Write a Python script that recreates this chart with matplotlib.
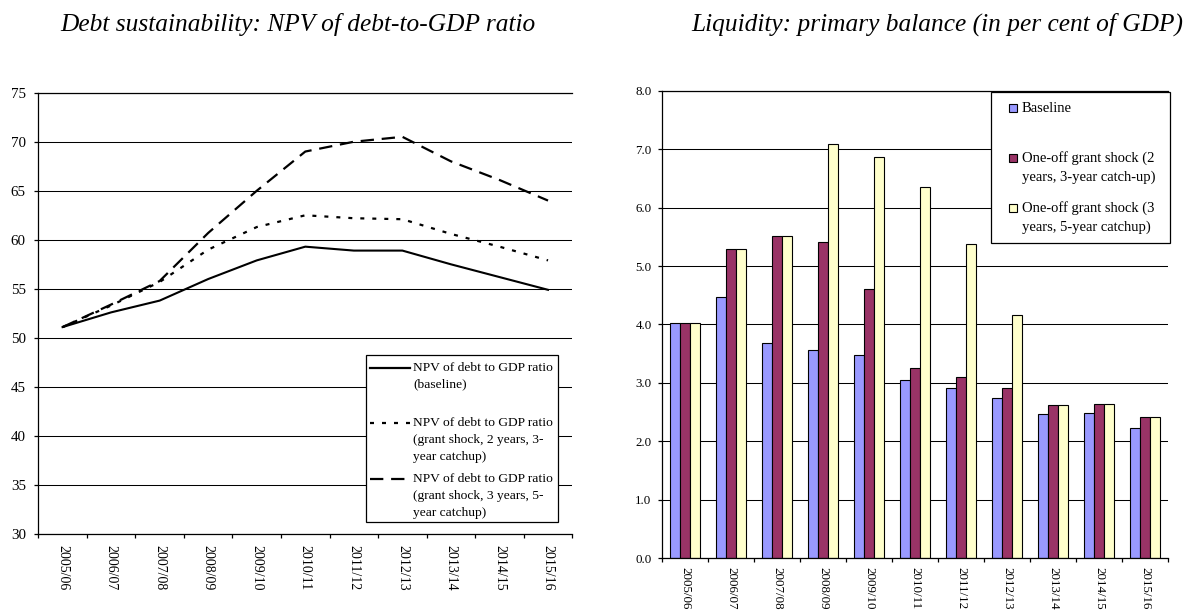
import numpy as np
import matplotlib
matplotlib.use("Agg")
import matplotlib.pyplot as plt
from matplotlib.patches import Rectangle
from matplotlib.lines import Line2D
from matplotlib.ticker import FormatStrFormatter

years = ['2005/06', '2006/07', '2007/08', '2008/09', '2009/10', '2010/11',
         '2011/12', '2012/13', '2013/14', '2014/15', '2015/16']

# NPV of debt-to-GDP ratio
npv_baseline = [51.1, 52.6, 53.8, 56.0, 57.9, 59.3, 58.9, 58.9, 57.5, 56.2, 54.9]
npv_shock_2y = [51.1, 53.3, 55.7, 59.0, 61.3, 62.5, 62.2, 62.1, 60.6, 59.3, 57.9]
npv_shock_3y = [51.1, 53.4, 55.8, 60.7, 65.0, 69.0, 70.0, 70.5, 68.0, 66.1, 64.0]

npv_labels = [['NPV of debt to GDP ratio', '(baseline)'],
              ['NPV of debt to GDP ratio', '(grant shock, 2 years, 3-', 'year catchup)'],
              ['NPV of debt to GDP ratio', '(grant shock, 3 years, 5-', 'year catchup)']]

# primary balance, per cent of GDP
pb_baseline = [4.02, 4.47, 3.68, 3.56, 3.47, 3.05, 2.91, 2.75, 2.47, 2.49, 2.23]
pb_shock_2y = [4.02, 5.30, 5.52, 5.42, 4.60, 3.26, 3.10, 2.91, 2.62, 2.64, 2.41]
pb_shock_3y = [4.02, 5.30, 5.52, 7.08, 6.87, 6.35, 5.37, 4.16, 2.62, 2.64, 2.41]

pb_labels = [['Baseline'],
             ['One-off grant shock (2', 'years, 3-year catch-up)'],
             ['One-off grant shock (3', 'years, 5-year catchup)']]
pb_colors = ['#9999FF', '#993366', '#FFFFCC']

plt.rcParams['font.family'] = ['Liberation Serif', 'DejaVu Serif']

W, H = 1200, 612
fig = plt.figure(figsize=(W / 100, H / 100), dpi=100)


def fx(px):
    return px / W


def fy(py):
    return 1 - py / H


def style_axes(ax):
    ax.spines['right'].set_visible(False)
    for s in ['left', 'bottom', 'top']:
        ax.spines[s].set_linewidth(0.9)
    ax.grid(axis='y', color='black', lw=0.75)
    ax.set_axisbelow(True)


x = np.arange(len(years))

# ---- left: debt sustainability lines
ax1 = fig.add_axes([fx(38.3), fy(534), fx(534), 441.3 / H])
ax1.plot(x, npv_baseline, color='black', lw=1.5)
ax1.plot(x, npv_shock_2y, color='black', lw=1.6, linestyle=(0, (1.8, 3.6)))
ax1.plot(x, npv_shock_3y, color='black', lw=1.6, linestyle=(0, (6, 3.5)))
ax1.set_xlim(-0.5, len(years) - 0.5)
ax1.set_ylim(30, 75)
ax1.set_yticks(range(30, 80, 5))
ax1.set_xticks(np.arange(-0.5, len(years), 1))
ax1.set_xticks(x, minor=True)
ax1.set_xticklabels(years, minor=True, rotation=-90, fontsize=10)
ax1.tick_params(axis='x', which='major', length=3, width=0.9, labelbottom=False)
ax1.tick_params(axis='x', which='minor', length=0, pad=8)
ax1.tick_params(axis='y', length=3, width=0.9, pad=6, labelsize=10.8)
style_axes(ax1)

# legend box, Excel style
fig.patches.append(Rectangle((fx(366), fy(522.3)), fx(557.5) - fx(366), fy(355) - fy(522.3),
                             transform=fig.transFigure, facecolor='white',
                             edgecolor='black', lw=0.9, zorder=5))
styles = ['-', (0, (1.8, 3.6)), (0, (6, 3.5))]
first_rows = [367.7, 423.3, 478.7]
for style, row, lines in zip(styles, first_rows, npv_labels):
    fig.lines.append(Line2D([fx(370), fx(410)], [fy(row), fy(row)], transform=fig.transFigure,
                            color='black', lw=1.6, linestyle=style, zorder=6))
    for i, line in enumerate(lines):
        fig.text(fx(413), fy(row + i * 17), line, fontsize=9.7, va='center', ha='left', zorder=6)

fig.text(fx(298), fy(31), 'Debt sustainability: NPV of debt-to-GDP ratio',
         fontsize=18.3, style='italic', ha='center', va='baseline')

# ---- right: liquidity bars
ax2 = fig.add_axes([fx(662), fy(558.3), fx(506.3), 467.6 / H])
w = 0.22
for k, (vals, col) in enumerate(zip([pb_baseline, pb_shock_2y, pb_shock_3y], pb_colors)):
    ax2.bar(x + (k - 1) * w, vals, width=w, color=col, edgecolor='black', lw=0.8)
ax2.set_xlim(-0.5, len(years) - 0.5)
ax2.set_ylim(0, 8)
ax2.set_yticks(range(0, 9))
ax2.yaxis.set_major_formatter(FormatStrFormatter('%.1f'))
ax2.set_xticks(np.arange(-0.5, len(years), 1))
ax2.set_xticks(x, minor=True)
ax2.set_xticklabels(years, minor=True, rotation=-90, fontsize=9.4)
ax2.tick_params(axis='x', which='major', length=3, width=0.9, labelbottom=False)
ax2.tick_params(axis='x', which='minor', length=0, pad=6.5)
ax2.tick_params(axis='y', length=3, width=0.9, pad=4.5, labelsize=9.3)
style_axes(ax2)

fig.patches.append(Rectangle((fx(991), fy(243.3)), fx(1170) - fx(991), fy(91.7) - fy(243.3),
                             transform=fig.transFigure, facecolor='white',
                             edgecolor='black', lw=0.9, zorder=5))
first_rows = [108, 158, 208]
for col, row, lines in zip(pb_colors, first_rows, pb_labels):
    fig.lines.append(Line2D([fx(1013)], [fy(row)], transform=fig.transFigure, marker='s',
                            markersize=5.5, markerfacecolor=col, markeredgecolor='black',
                            markeredgewidth=0.8, linestyle='none', zorder=6))
    for i, line in enumerate(lines):
        fig.text(fx(1022), fy(row + i * 19), line, fontsize=10.5, va='center', ha='left', zorder=6)

fig.text(fx(937), fy(31), 'Liquidity: primary balance (in per cent of GDP)',
         fontsize=18.3, style='italic', ha='center', va='baseline')

fig.savefig('out.png', dpi=100)
